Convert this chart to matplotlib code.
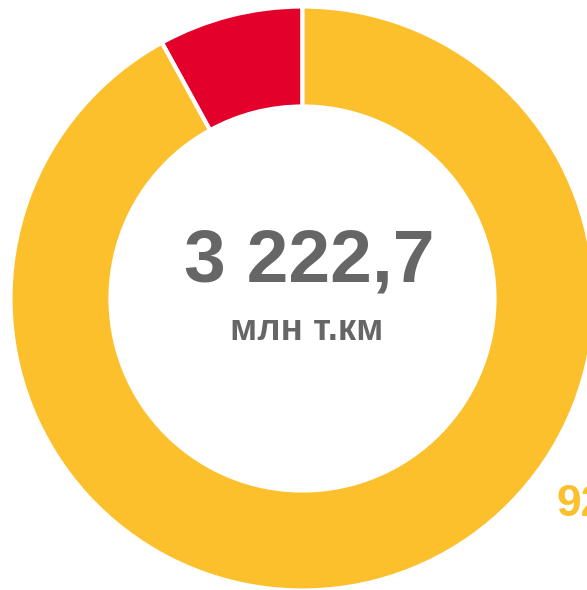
import matplotlib
matplotlib.use("Agg")
import matplotlib.pyplot as plt

categories = ["Прочее", "Основное"]
values = [8, 92]
colors = ["#E3002B", "#FCC02D"]
total_label = "3 222,7"
unit_label = "млн т.км"
pct_label = "92%"

W, H = 587, 590
fig = plt.figure(figsize=(W / 100, H / 100), dpi=100)
ax = fig.add_axes([0, 0, 1, 1])

cx, cy, R = 302.5, H - 298.5, 292
ax.pie(values, colors=colors, startangle=90, counterclock=True,
       center=(cx, cy), radius=R, frame=True,
       wedgeprops=dict(width=100, edgecolor="white", linewidth=3))
ax.set_xlim(0, W)
ax.set_ylim(0, H)
ax.set_aspect("equal")
ax.axis("off")

ax.text(cx + 7, H - 262, total_label, ha="center", va="center",
        fontsize=54, fontweight="bold", color="#666666", family="Liberation Sans")
ax.text(cx + 4, H - 330, unit_label, ha="center", va="center",
        fontsize=26.5, fontweight="bold", color="#666666", family="Liberation Sans")
ax.text(556, H - 504, pct_label, ha="left", va="center",
        fontsize=32, fontweight="bold", color="#FCC02D", family="Liberation Sans")

fig.savefig("out.png", dpi=100)
